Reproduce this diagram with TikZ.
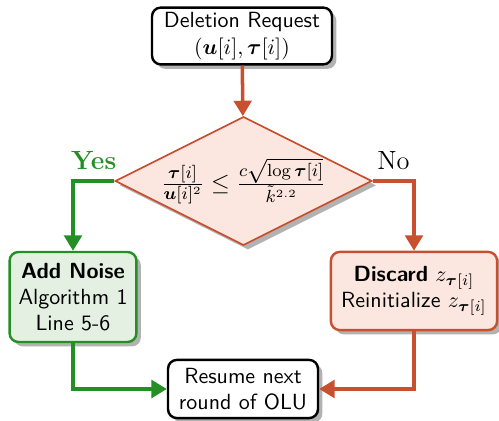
\documentclass[tikz,border=0pt]{standalone}
\usepackage{amsmath}
\usepackage{amssymb}
\usetikzlibrary{positioning, shapes.geometric, arrows.meta, shadows, calc}
\definecolor{olured}{HTML}{C9502F}
\definecolor{olugreen}{HTML}{248F24}
\definecolor{olupink}{HTML}{FBE7DF}
\definecolor{olumint}{HTML}{E4F1E2}

\begin{document}
\begin{tikzpicture}[
        x=0.016cm, y=-0.016cm,
        shade/.style={drop shadow={shadow xshift=0.07cm, shadow yshift=-0.07cm, fill=black, opacity=0.3}},
        box/.style={draw, line width=1.1pt, rounded corners=4pt, fill=white, font=\sffamily, align=center,
                    inner sep=1pt, shade},
        test/.style={diamond, draw=olured, thick, fill=olupink, shape aspect=2, inner sep=-3pt,
                     minimum width=4.11cm, minimum height=2.06cm, shade},
        rarr/.style={-{Triangle[length=7pt, width=8pt]}, line width=1.6pt, olured},
        garr/.style={-{Triangle[length=7pt, width=8pt]}, line width=1.6pt, olugreen},
        every node/.style={font=\normalsize}
    ]
    \useasboundingbox (0,0) rectangle (499,421);

    % Request and the test on it
    \node[box, minimum width=2.88cm, minimum height=0.91cm] (req) at (242,36)
        {Deletion Request\\$(\boldsymbol{u}[i], \boldsymbol{\tau}[i])$};
    \node[test, font=\fontsize{11}{13}\selectfont] (cond) at (243.5,181)
        {$\frac{\boldsymbol{\tau}[i]}{\boldsymbol{u}[i]^2} \leq \frac{c\sqrt{\log \boldsymbol{\tau}[i]}}{\tilde{k}^{2.2}}$};

    % Two outcomes
    \node[box, draw=olugreen, fill=olumint, minimum width=2.03cm, minimum height=1.44cm] (noise) at (73,297)
        {\textbf{Add Noise}\\Algorithm 1\\Line 5-6};
    \node[box, draw=olured, fill=olupink, minimum width=2.66cm, minimum height=1.25cm] (discard) at (414,291)
        {\textbf{Discard} $z_{\boldsymbol{\tau}[i]}$\\Reinitialize $z_{\boldsymbol{\tau}[i]}$};

    % Back to training
    \node[box, minimum width=2.4cm, minimum height=0.93cm] (resume) at (243,389)
        {Resume next\\round of OLU};

    % Arrows
    \draw[rarr] (req) -- (cond);
    \draw[garr] (cond.west) -| node[pos=0.25, above=1pt, font=\large\bfseries] (yes) {Yes} (noise.north);
    \draw[rarr] (cond.east) -| node[pos=0.25, above=1pt, font=\large, text=black] (no) {No} (discard.north);
    \draw[garr] (noise.south) |- (resume.west);
    \draw[rarr] (discard.south) |- (resume.east);
\end{tikzpicture}
\end{document}
